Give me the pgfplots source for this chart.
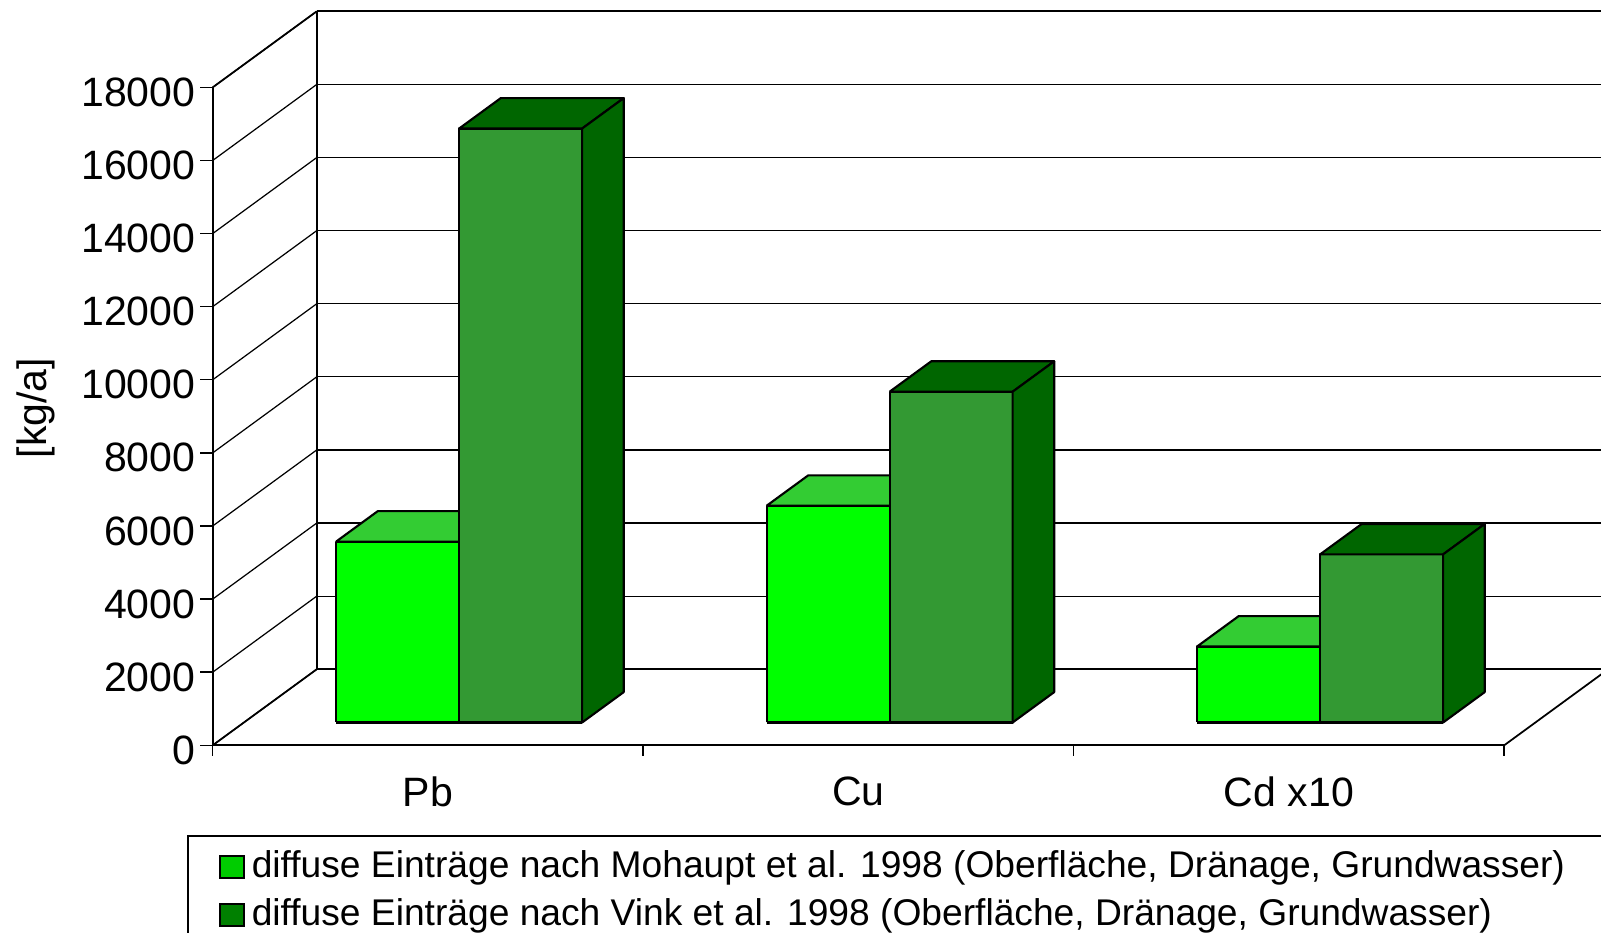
\documentclass[border=0pt]{standalone}
\usepackage{fontspec}
\setmainfont{Liberation Sans}
\usepackage{pgfplots}
\pgfplotsset{compat=1.18}
\definecolor{lightfront}{HTML}{00FF00}
\definecolor{lighttop}{HTML}{33CC33}
\definecolor{darkfront}{HTML}{339933}
\definecolor{darktop}{HTML}{006600}
\definecolor{leglight}{HTML}{00CC00}
\definecolor{legdark}{HTML}{008000}
\pgfplotsset{barface/.style={draw=black, line width=0.6pt, line join=round, forget plot}}
% #1 = left x, #2 = right x, #3 = value
\newcommand{\lightbar}[3]{%
  \addplot3[barface, fill=lightfront] coordinates {(#1,0.3,0) (#2,0.3,0) (#2,0.3,#3) (#1,0.3,#3) (#1,0.3,0)};
  \addplot3[barface, fill=lighttop] coordinates {(#1,0.3,#3) (#2,0.3,#3) (#2,0.7,#3) (#1,0.7,#3) (#1,0.3,#3)};
}
\newcommand{\darkbar}[3]{%
  \addplot3[barface, fill=darkfront] coordinates {(#1,0.3,0) (#2,0.3,0) (#2,0.3,#3) (#1,0.3,#3) (#1,0.3,0)};
  \addplot3[barface, fill=darktop] coordinates {(#1,0.3,#3) (#2,0.3,#3) (#2,0.7,#3) (#1,0.7,#3) (#1,0.3,#3)};
  \addplot3[barface, fill=darktop] coordinates {(#2,0.3,0) (#2,0.7,0) (#2,0.7,#3) (#2,0.3,#3) (#2,0.3,0)};
}
\begin{document}
\begin{tikzpicture}
\useasboundingbox (-2.127cm,-1.877cm) rectangle (13.883cm,7.453cm);
\clip (-2.127cm,-1.877cm) rectangle (13.883cm,7.453cm);
\begin{axis}[
  at={(0,0)}, anchor=origin,
  x={(4.305cm,0cm)}, y={(1.04cm,0.76cm)}, z={(0cm,0.0003672cm)},
  xmin=0, xmax=3, ymin=0, ymax=1, zmin=0, zmax=18000,
  ztick={0,2000,...,18000},
  scaled z ticks=false,
  /pgf/number format/assume math mode=true,
  zticklabel style={/pgf/number format/1000 sep={}, anchor=east, xshift=-0.05cm, yshift=-0.05cm},
  ytick=\empty,
  xtick={0.5,1.5,2.5}, xticklabels={Pb,Cu,Cd x10},
  xticklabel style={anchor=north, yshift=-0.19cm},
  zmajorgrids=true,
  major grid style={black, line width=0.35pt},
  axis line style={black, line width=0.5pt},
  major tick length=0pt,
  minor tick length=0pt,
  tick label style={font=\fontsize{11.67}{14}\selectfont},
  clip=false,
]
\lightbar{0.2143}{0.5}{4950}
\darkbar{0.5}{0.7857}{16250}
\lightbar{1.2143}{1.5}{5930}
\darkbar{1.5}{1.7857}{9050}
\lightbar{2.2143}{2.5}{2080}
\darkbar{2.5}{2.7857}{4600}
% tick marks (horizontal on the value axis, vertical on the category axis)
\pgfplotsinvokeforeach{0,2000,4000,6000,8000,10000,12000,14000,16000,18000}{%
  \draw[black, line width=0.4pt] (axis cs:0,0,#1) -- ++(-0.13cm,0cm);}
\pgfplotsinvokeforeach{0,1,2,3}{%
  \draw[black, line width=0.4pt] (axis cs:#1,0,0) -- ++(0cm,-0.11cm);}
\end{axis}
\node[rotate=90, font=\fontsize{11.67}{14}\selectfont] at (-1.767cm,3.373cm) {[kg/a]};
\begin{axis}[
  at={(-0.254cm,-0.9cm)}, anchor=north west,
  scale only axis, width=1cm, height=1cm, hide axis,
  xmin=0, xmax=1, ymin=0, ymax=1,
  legend style={at={(0,1)}, anchor=north west, draw=black, line width=0.4pt,
    font=\fontsize{10.58}{12.5}\selectfont, legend cell align=left,
    row sep=0.016cm, inner xsep=0.31cm, inner ysep=0.08cm},
  legend image code/.code={\draw[#1, line width=0.5pt] (0cm,-0.11cm) rectangle (0.24cm,0.11cm);},
]
\addlegendimage{fill=leglight, draw=black}
\addlegendentry{diffuse Einträge nach Mohaupt et al. 1998 (Oberfläche, Dränage, Grundwasser)\hspace*{0.6cm}}
\addlegendimage{fill=legdark, draw=black}
\addlegendentry{diffuse Einträge nach Vink et al. 1998 (Oberfläche, Dränage, Grundwasser)}
\end{axis}
\end{tikzpicture}
\end{document}
